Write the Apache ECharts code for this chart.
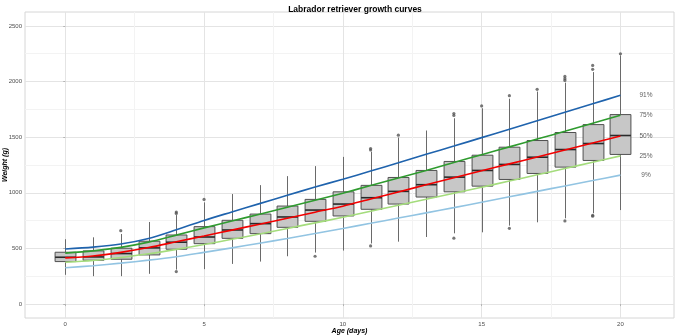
<!DOCTYPE html>
<html><head><meta charset="utf-8">
<script src="https://cdn.jsdelivr.net/npm/echarts@6/dist/echarts.min.js"></script>
<style>html,body{margin:0;padding:0;background:#fff}#c{width:676px;height:335px}</style>
</head><body><div id="c"></div>
<script>
const days = [0,1,2,3,4,5,6,7,8,9,10,11,12,13,14,15,16,17,18,19,20];
const boxMin = [263,251,251,272,310,314,361,382,430,463,481,545,561,603,636,645,705,735,771,816,845];
const boxQ1  = [382,394,403,442,493,543,591,633,690,744,792,852,899,962,1009,1060,1120,1174,1231,1291,1345];
const boxMed = [421,424,454,505,556,603,666,723,783,845,899,956,1013,1073,1141,1201,1255,1320,1389,1443,1515];
const boxQ3  = [466,478,502,565,621,696,753,809,881,941,1009,1067,1138,1201,1282,1338,1410,1470,1542,1613,1703];
const boxMax = [583,600,630,738,800,914,989,1069,1150,1240,1323,1370,1497,1560,1670,1760,1846,1910,1990,2085,2235];
const outlierDays   = [2,4,4,4,5,9,11,11,11,12,14,14,14,15,16,16,17,18,18,18,18,19,19,19,19,20];
const outlierValues = [660,827,815,292,941,430,1398,1385,523,1518,1712,1695,592,1781,1873,681,1930,2046,2026,2010,747,2145,2110,798,790,2250];
const p91 = [495,512,540,590,668,752,828,903,978,1052,1122,1196,1270,1346,1420,1496,1572,1648,1724,1800,1876];
const p75 = [458,478,510,557,620,685,746,808,870,933,997,1065,1133,1200,1272,1343,1413,1483,1553,1625,1697];
const p50 = [415,432,465,508,560,612,665,718,772,826,880,944,1008,1072,1136,1198,1260,1322,1385,1448,1511];
const p25 = [376,392,418,452,492,535,582,630,680,730,780,834,888,942,996,1050,1106,1162,1218,1275,1332];
const p9  = [326,345,368,395,426,465,505,547,590,635,680,726,773,820,867,915,964,1013,1062,1110,1159];
const pctLabels = ['91%','75%','50%','25%','9%'];
const xTicks = [0,5,10,15,20];
const xMinor = [2.5,7.5,12.5,17.5];
const yTicks = [0,500,1000,1500,2000,2500];
const yMinor = [250,750,1250,1750,2250];

const FONT = 'Liberation Sans, Arial, sans-serif';
const curves = [
  {name:'91%', data:p91, color:'#1f63ad'},
  {name:'75%', data:p75, color:'#2f9b2f'},
  {name:'50%', data:p50, color:'#f20000'},
  {name:'25%', data:p25, color:'#a4dc7c'},
  {name:'9%',  data:p9,  color:'#92c4e2'}
];
const labelX = 20.92;
const boxData = days.map((d,i)=>[d, boxMin[i], boxQ1[i], boxMed[i], boxQ3[i], boxMax[i]]);
const outData = outlierDays.map((d,i)=>[d, outlierValues[i]]);
const pctData = curves.map((c,i)=>[labelX, c.data[c.data.length-1], pctLabels[i]]);

const XMIN = -1.45, XMAX = 21.93, YMIN = -125, YMAX = 2625;
const chart = echarts.init(document.getElementById('c'), null, {renderer:'canvas'});
const plain = v => String(v);
const option = {
  animation: false,
  backgroundColor: '#fff',
  textStyle: {fontFamily: FONT},
  title: {
    text: 'Labrador retriever growth curves',
    left: 350, top: 0, textAlign: 'center',
    textStyle: {fontSize: 8.5, fontWeight: 'bold', color: '#000', fontFamily: FONT}
  },
  grid: {left: 25, right: 2, top: 12, bottom: 17, containLabel: false, outerBoundsMode: 'none',
         show: true, borderColor: '#d6d6d6', borderWidth: 1, backgroundColor: '#fff'},
  xAxis: [
    {type:'value', min:XMIN, max:XMAX, position:'bottom',
     name:'Age (days)', nameLocation:'middle', nameGap:9.5, nameMoveOverlap:false,
     nameTextStyle:{fontSize:7, fontWeight:'bold', fontStyle:'italic', color:'#000', fontFamily:FONT},
     axisLine:{show:false},
     axisTick:{show:true, customValues:xTicks, length:2, lineStyle:{color:'#b3b3b3'}},
     axisLabel:{customValues:xTicks, formatter:plain, fontSize:6, color:'#4d4d4d', margin:3, fontFamily:FONT},
     splitLine:{show:true, lineStyle:{color:'#e4e4e4', width:1}}},
    {type:'value', min:XMIN, max:XMAX, position:'top',
     axisLine:{show:false}, axisLabel:{show:false},
     axisTick:{show:false, customValues:xMinor},
     splitLine:{show:true, lineStyle:{color:'#f3f3f3', width:1}}}
  ],
  yAxis: [
    {type:'value', min:YMIN, max:YMAX, position:'left',
     name:'Weight (g)', nameLocation:'middle', nameGap:16, nameRotate:90, nameMoveOverlap:false,
     nameTextStyle:{fontSize:7, fontWeight:'bold', fontStyle:'italic', color:'#000', fontFamily:FONT},
     axisLine:{show:false},
     axisTick:{show:true, customValues:yTicks, length:2, lineStyle:{color:'#b3b3b3'}},
     axisLabel:{customValues:yTicks, formatter:plain, fontSize:6, color:'#4d4d4d', margin:3, fontFamily:FONT},
     splitLine:{show:true, lineStyle:{color:'#e4e4e4', width:1}}},
    {type:'value', min:YMIN, max:YMAX, position:'right',
     axisLine:{show:false}, axisLabel:{show:false},
     axisTick:{show:false, customValues:yMinor},
     splitLine:{show:true, lineStyle:{color:'#f3f3f3', width:1}}}
  ],
  series: [
    {type:'custom', xAxisIndex:0, yAxisIndex:0, data: boxData, encode:{x:0, y:[1,2,3,4,5]}, z:2,
     renderItem: function(params, api){
       const x = api.value(0);
       const lo = api.coord([x, api.value(1)]);
       const q1 = api.coord([x, api.value(2)]);
       const md = api.coord([x, api.value(3)]);
       const q3 = api.coord([x, api.value(4)]);
       const hi = api.coord([x, api.value(5)]);
       const w = api.size([0.75, 0])[0];
       const cx = Math.round(q1[0]) + 0.5;
       return {type:'group', children:[
         {type:'line', shape:{x1:cx, y1:lo[1], x2:cx, y2:q1[1]}, style:{stroke:'#6a6a6a', lineWidth:1}},
         {type:'line', shape:{x1:cx, y1:q3[1], x2:cx, y2:hi[1]}, style:{stroke:'#6a6a6a', lineWidth:1}},
         {type:'rect', shape:{x:cx - w/2, y:q3[1], width:w, height:q1[1]-q3[1]}, style:{fill:'#c7c7c7', stroke:'#505050', lineWidth:1}},
         {type:'line', shape:{x1:cx - w/2, y1:md[1], x2:cx + w/2, y2:md[1]}, style:{stroke:'#2a2a2a', lineWidth:1.6}}
       ]};
     }},
    {type:'scatter', xAxisIndex:0, yAxisIndex:0, data: outData, symbolSize:3.2, z:3,
     itemStyle:{color:'#555555'}},
    ...curves.map(c => ({
      type:'line', name:c.name, xAxisIndex:0, yAxisIndex:0, z:4,
      data: days.map((d,i)=>[d, c.data[i]]), smooth:0.3, showSymbol:false, symbol:'none',
      lineStyle:{color:c.color, width:1.6}
    })),
    {type:'scatter', xAxisIndex:0, yAxisIndex:0, data: pctData, symbolSize:0, z:5,
     label:{show:true, position:'inside', formatter: p => p.data[2], fontSize:6.5, color:'#333', fontFamily:FONT}}
  ]
};
chart.setOption(option);
</script></body></html>
